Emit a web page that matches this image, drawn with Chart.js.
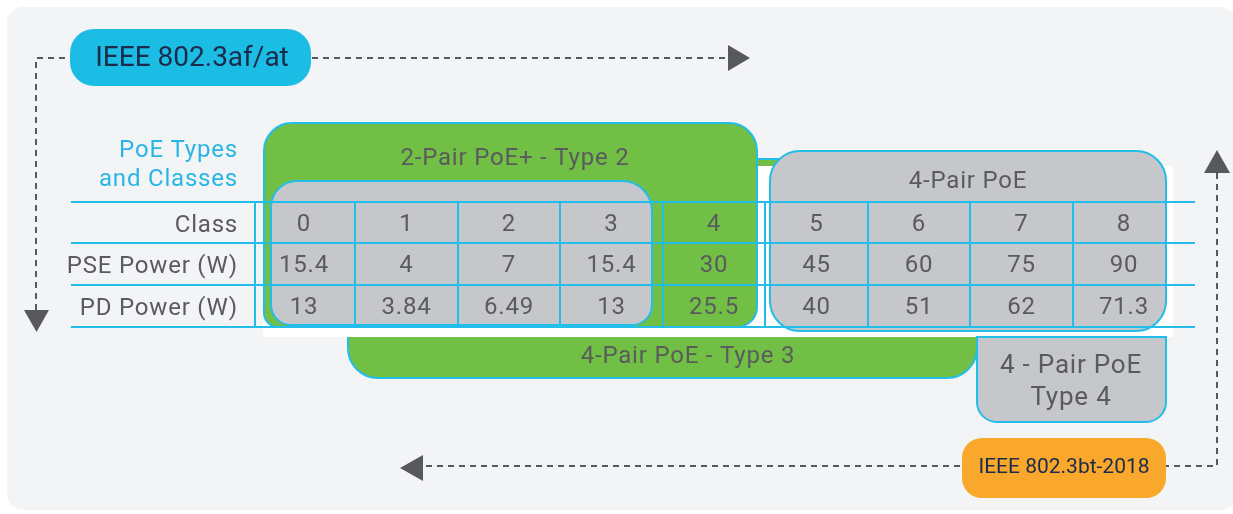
<!DOCTYPE html>
<html>
<head>
<meta charset="utf-8">
<script src="https://cdn.jsdelivr.net/npm/chart.js@4.4.1/dist/chart.umd.min.js"></script>
<style>
  html, body { margin: 0; padding: 0; background: #ffffff; }
  canvas { display: block; }
</style>
</head>
<body>
<canvas id="poeChart" width="1233" height="514"></canvas>
<script>
// table data
const classes = ["0", "1", "2", "3", "4", "5", "6", "7", "8"];
const pseWatts = [15.4, 4, 7, 15.4, 30, 45, 60, 75, 90];
const pdWatts = [13, 3.84, 6.49, 13, 25.5, 40, 51, 62, 71.3];
const rowNames = ["Class", "PSE Power (W)", "PD Power (W)"];

const CYAN = "#22bde8";
const GREEN = "#72bf45";
const GREY = "#c6c7cb";
const TEXT = "#5a5b5d";
const FONT = "Roboto, 'Open Sans', sans-serif";

function rowData(values, row) {
  return values.map((v, i) => ({ x: i, y: row, label: String(v) }));
}

function box(ctx, x, y, w, h, r, fill, stroke) {
  ctx.beginPath();
  ctx.roundRect(x, y, w, h, r);
  ctx.fillStyle = fill;
  ctx.fill();
  if (stroke) {
    ctx.lineWidth = 2;
    ctx.strokeStyle = stroke;
    ctx.stroke();
  }
}

function text(ctx, s, x, y, size, color, align, spacing) {
  ctx.font = size + "px " + FONT;
  ctx.letterSpacing = (spacing === undefined ? 0.8 : spacing) + "px";
  ctx.fillStyle = color;
  ctx.textAlign = align || "center";
  ctx.textBaseline = "middle";
  ctx.fillText(s, x, y);
  ctx.letterSpacing = "0px";
}

function dashed(ctx, pts) {
  ctx.save();
  ctx.setLineDash([6, 5]);
  ctx.lineWidth = 2;
  ctx.strokeStyle = "#58595b";
  ctx.beginPath();
  ctx.moveTo(pts[0][0], pts[0][1]);
  for (let i = 1; i < pts.length; i++) ctx.lineTo(pts[i][0], pts[i][1]);
  ctx.stroke();
  ctx.restore();
}

function tri(ctx, a, b, c) {
  ctx.beginPath();
  ctx.moveTo(a[0], a[1]);
  ctx.lineTo(b[0], b[1]);
  ctx.lineTo(c[0], c[1]);
  ctx.closePath();
  ctx.fillStyle = "#58595b";
  ctx.fill();
}

const diagram = {
  id: "diagram",
  beforeDatasetsDraw(chart) {
    const ctx = chart.ctx;
    ctx.save();
    // panel
    box(ctx, 7, 7, 1229, 503, 16, "#f3f4f6");

    // type 3 band and strip
    box(ctx, 348, 330, 629, 48, [0, 0, 30, 30], GREEN, CYAN);
    ctx.fillStyle = GREEN;
    ctx.fillRect(700, 159, 80, 8);
    ctx.fillStyle = CYAN;
    ctx.fillRect(700, 158, 80, 2);

    // white band behind the table
    ctx.fillStyle = "#ffffff";
    ctx.fillRect(263, 166, 910, 171);

    // type 2 box and inner grey box
    box(ctx, 264, 123, 493, 204, [28, 28, 20, 14], GREEN, CYAN);
    box(ctx, 271, 181, 381, 144, [26, 30, 20, 20], GREY, CYAN);

    // type 4 box then 4-pair box
    box(ctx, 977, 337, 189, 85, [0, 0, 20, 20], GREY, CYAN);
    box(ctx, 770, 151, 396, 180, 30, GREY, CYAN);

    // grid lines from the scales
    const xs = chart.scales.x, ys = chart.scales.y;
    ctx.strokeStyle = CYAN;
    ctx.lineWidth = 2;
    const top = ys.getPixelForValue(-0.5);
    const bottom = ys.getPixelForValue(rowNames.length - 0.5);
    for (let r = 0; r <= rowNames.length; r++) {
      const y = Math.round(ys.getPixelForValue(r - 0.5));
      ctx.beginPath();
      ctx.moveTo(71, y);
      ctx.lineTo(1195, y);
      ctx.stroke();
    }
    const vlines = [255];
    for (let i = 1; i < classes.length; i++) vlines.push(Math.round(xs.getPixelForValue(i - 0.5)));
    vlines.forEach(x => {
      ctx.beginPath();
      ctx.moveTo(x, top);
      ctx.lineTo(x, bottom);
      ctx.stroke();
    });

    // group labels
    text(ctx, "PoE Types", 238, 151, 24, "#29b6e6", "right");
    text(ctx, "and Classes", 238, 180, 24, "#29b6e6", "right");
    text(ctx, "2-Pair PoE+ - Type 2", 515, 159, 24, TEXT);
    text(ctx, "4-Pair PoE", 968, 182, 24, TEXT);
    text(ctx, "4-Pair PoE - Type 3", 688, 357, 24, TEXT);
    text(ctx, "4 - Pair PoE", 1071, 366, 26, TEXT);
    text(ctx, "Type 4", 1071, 398, 26, TEXT);

    // row names
    rowNames.forEach((n, r) => text(ctx, n, 238, ys.getPixelForValue(r) + 3, 24, TEXT, "right"));

    // standards arrows
    dashed(ctx, [[36, 310], [36, 58], [728, 58]]);
    tri(ctx, [24, 310], [49, 310], [36.5, 332]);
    tri(ctx, [728, 45], [728, 71], [750, 58]);
    dashed(ctx, [[1217, 173], [1217, 466], [423, 466]]);
    tri(ctx, [1204, 173], [1230, 173], [1217, 150]);
    tri(ctx, [423, 455], [423, 481], [400, 468]);

    box(ctx, 70, 29, 241, 57, 24, "#1cbde4");
    text(ctx, "IEEE 802.3af/at", 192, 59, 28, "#1b2b4b", "center", 0);
    box(ctx, 962, 438, 204, 60, 20, "#f9a82c");
    text(ctx, "IEEE 802.3bt-2018", 1064, 468, 21, "#1b2b4b", "center", 0);
    ctx.restore();
  },
  afterDatasetsDraw(chart) {
    const ctx = chart.ctx;
    ctx.save();
    chart.data.datasets.forEach((ds, di) => {
      const meta = chart.getDatasetMeta(di);
      meta.data.forEach((pt, i) => {
        text(ctx, ds.data[i].label, pt.x, pt.y + 2, 24, TEXT);
      });
    });
    ctx.restore();
  }
};

const xUnit = 102.5, xZero = 304;
const yUnit = 41.7, yZero = 222.5;

new Chart(document.getElementById("poeChart").getContext("2d"), {
  type: "scatter",
  data: {
    datasets: [
      { label: rowNames[0], data: rowData(classes, 0) },
      { label: rowNames[1], data: rowData(pseWatts, 1) },
      { label: rowNames[2], data: rowData(pdWatts, 2) }
    ]
  },
  options: {
    responsive: false,
    animation: false,
    events: [],
    layout: { padding: 0 },
    elements: { point: { radius: 0 } },
    plugins: { legend: { display: false }, tooltip: { enabled: false } },
    scales: {
      x: { type: "linear", display: false, bounds: "data", min: -xZero / xUnit, max: (1233 - xZero) / xUnit },
      y: { type: "linear", display: false, bounds: "data", reverse: true, min: -yZero / yUnit, max: (514 - yZero) / yUnit }
    }
  },
  plugins: [diagram]
});
</script>
</body>
</html>
